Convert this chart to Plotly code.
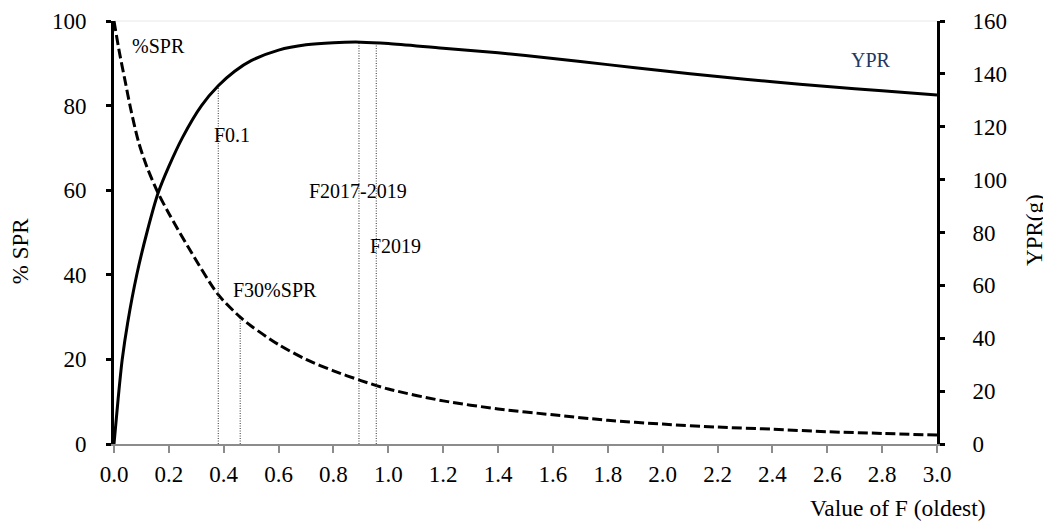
import plotly.graph_objects as go

# ---- data ----
spr_f = [0, 0.02, 0.04, 0.06, 0.089, 0.12, 0.161, 0.2, 0.271, 0.38, 0.46, 0.5,
         0.6, 0.7, 0.8, 0.9, 1.0, 1.2, 1.4, 1.6, 1.8, 2.0, 2.2, 2.4, 2.6, 2.8, 3.0]
spr_pct = [100, 92.5, 86, 79.5, 71.5, 65.5, 59.3, 54.5, 46.5, 35.3, 30, 27.9,
           23.5, 20.0, 17.3, 15.0, 13.0, 10.2, 8.3, 6.9, 5.6, 4.7, 4.0, 3.5, 2.9, 2.5, 2.1]

ypr_f = [0, 0.015, 0.03, 0.05, 0.083, 0.12, 0.161, 0.2, 0.25, 0.319, 0.38, 0.44, 0.5,
         0.6, 0.7, 0.8, 0.9, 1.0, 1.2, 1.4, 1.6, 1.8, 2.0, 2.2, 2.4, 2.6, 2.8, 3.0]
ypr_g = [0, 17, 32, 46, 64, 80, 95, 105, 116, 128, 135.5, 141, 145,
         149, 151, 151.8, 152, 151.5, 149.7, 148, 145.8, 143.5, 141.2, 139, 137, 135.2, 133.6, 132]

ref_names = ["F0.1", "F30%SPR", "F2017-2019", "F2019"]
ref_f = [0.38, 0.46, 0.893, 0.956]
ref_top = [135.5, 30, 152, 152]          # top of each reference line
ref_axis = ["y2", "y", "y2", "y2"]        # axis the top value refers to

x_ticks = [round(i * 0.2, 1) for i in range(16)]
x_ticktext = [f"{v:.1f}" for v in x_ticks]
left_ticks = [0, 20, 40, 60, 80, 100]
right_ticks = [0, 20, 40, 60, 80, 100, 120, 140, 160]

# label positions (F, %SPR)
labels = ["%SPR", "F0.1", "F2017-2019", "F2019", "F30%SPR", "YPR"]
label_f = [0.058, 0.357, 0.702, 0.925, 0.426, 2.681]
label_y = [94, 73, 59.9, 46.7, 36.3, 90.7]
label_col = ["black", "black", "black", "black", "black", "#203864"]

FONT = "Liberation Serif, Times New Roman, serif"

fig = go.Figure()

for name, f, top, ax in zip(ref_names, ref_f, ref_top, ref_axis):
    fig.add_trace(go.Scatter(
        x=[f, f], y=[0, top], mode="lines", yaxis=ax, showlegend=False,
        line=dict(color="#303030", width=1, dash="1px,1.5px"), hoverinfo="skip"))

fig.add_trace(go.Scatter(
    x=spr_f, y=spr_pct, mode="lines", name="%SPR", showlegend=False,
    line=dict(color="black", width=3, dash="10px,4px", shape="spline", smoothing=0.8)))

fig.add_trace(go.Scatter(
    x=ypr_f, y=ypr_g, mode="lines", name="YPR", yaxis="y2", showlegend=False,
    line=dict(color="black", width=3, shape="spline", smoothing=0.8)))

annotations = []
for t, fx, fy, c in zip(labels, label_f, label_y, label_col):
    annotations.append(dict(
        x=fx, y=fy, xref="x", yref="y", text=t, showarrow=False,
        xanchor="left", yanchor="middle", font=dict(family=FONT, size=20, color=c)))

annotations += [
    dict(x=-0.1142, y=0.456, xref="paper", yref="paper", text="% SPR", textangle=-90,
         showarrow=False, xanchor="center", yanchor="middle",
         font=dict(family=FONT, size=23, color="black")),
    dict(x=1.119, y=0.506, xref="paper", yref="paper", text="YPR(g)", textangle=-90,
         showarrow=False, xanchor="center", yanchor="middle",
         font=dict(family=FONT, size=23, color="black")),
    dict(x=1.062, y=-0.151, xref="paper", yref="paper", text="Value of F (oldest)",
         showarrow=False, xanchor="right", yanchor="middle",
         font=dict(family=FONT, size=23.5, color="black")),
]

fig.update_layout(
    width=1043, height=516,
    margin=dict(l=106, r=114, t=13, b=80),
    paper_bgcolor="white", plot_bgcolor="white",
    font=dict(family=FONT, size=23, color="black"),
    xaxis=dict(range=[0, 3], tickvals=x_ticks, ticktext=x_ticktext,
               showline=True, linecolor="#8c8c8c", linewidth=2,
               ticks="outside", ticklen=7, tickwidth=1.5, tickcolor="#8c8c8c",
               showgrid=False, zeroline=False, ticklabelstandoff=1, automargin=False,
               tickfont=dict(family=FONT, size=23, color="black")),
    yaxis=dict(range=[0, 100], tickvals=left_ticks,
               showline=True, linecolor="black", linewidth=3,
               ticks="outside", ticklen=5, tickwidth=2.5, tickcolor="black",
               showgrid=False, zeroline=False, ticklabelstandoff=15, automargin=False,
               tickfont=dict(family=FONT, size=23, color="black")),
    yaxis2=dict(range=[0, 160], tickvals=right_ticks, overlaying="y", side="right",
                showline=True, linecolor="black", linewidth=3,
                ticks="outside", ticklen=5, tickwidth=2.5, tickcolor="black",
                showgrid=False, zeroline=False, ticklabelstandoff=23, automargin=False,
                tickfont=dict(family=FONT, size=23, color="black")),
    shapes=[dict(type="line", xref="paper", yref="paper", x0=0, x1=1, y0=1, y1=1,
                 line=dict(color="#e8e8e8", width=1), layer="below")],
    annotations=annotations,
)

fig.write_html("out.html")
